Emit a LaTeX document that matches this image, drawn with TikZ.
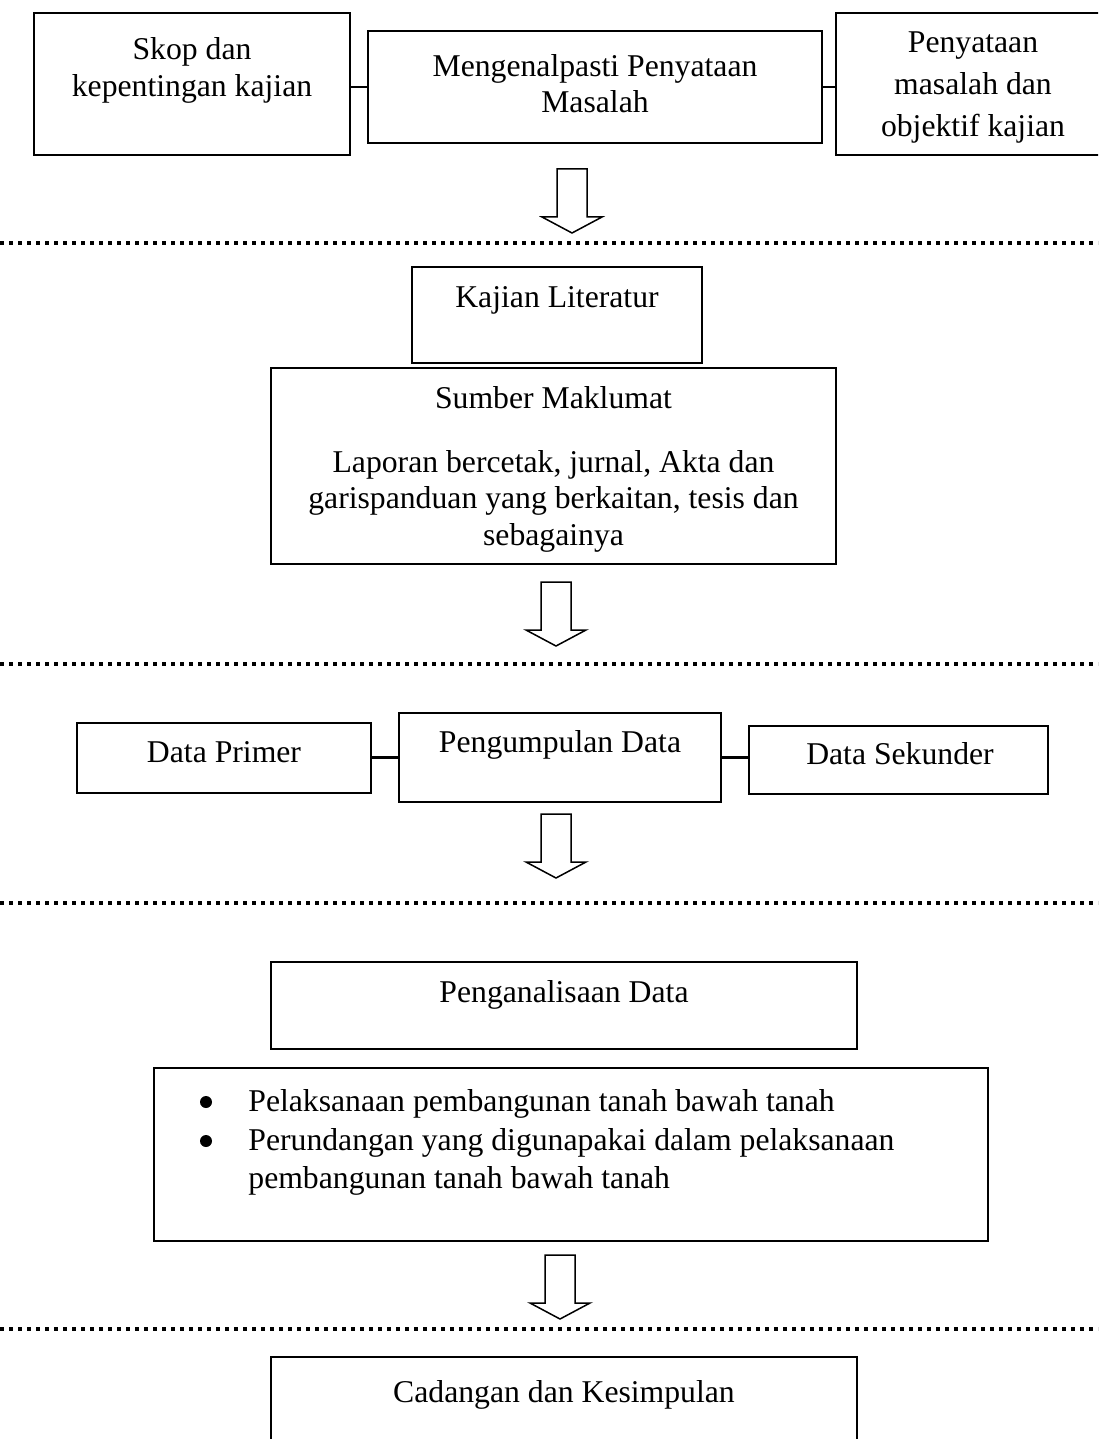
\documentclass[tikz,border=0pt]{standalone}
\usepackage{fontspec}
\setmainfont{Liberation Serif}
\usetikzlibrary{fit}
\begin{document}
\begin{tikzpicture}[x=0.5pt,y=-0.5pt,
  box/.style={draw=black, line width=1pt, inner sep=0pt},
  txt/.style={inner sep=0pt, font=\fontsize{15.85pt}{19pt}\selectfont},
  conn/.style={line width=1.2pt},
  sepline/.style={line width=1.8pt, dash pattern=on 1.8pt off 2.7pt},
  bulletdot/.style={circle, fill=black, inner sep=0pt, minimum size=6pt},
  blockarrow/.style={draw=black, line width=0.75pt, line join=miter, fill=white},
  blockdown/.pic={\draw[blockarrow] (-15,0) -- (15,0) -- (15,48) -- (30,48) -- (0,64) -- (-30,48) -- (-15,48) -- cycle;}]
\useasboundingbox (0,0) rectangle (1098,1439);
\clip (0,0) rectangle (1098,1439);

% ---- Row 1
\node[box, fit={(34,13) (350,155)}] (A) {};
\node[box, fit={(368,31) (822,143)}] (B) {};
\node[box, fit={(836,13) (1112,155)}] (C) {};
\node[txt, anchor=base] (tA1) at (192,60) {Skop dan};
\node[txt, anchor=base] (tA2) at (192,97) {kepentingan kajian};
\node[txt, anchor=base] (tB1) at (595,77) {Mengenalpasti Penyataan};
\node[txt, anchor=base] (tB2) at (595,113) {Masalah};
\node[txt, anchor=base] (tC1) at (973,53) {Penyataan};
\node[txt, anchor=base] (tC2) at (973,95) {masalah dan};
\node[txt, anchor=base] (tC3) at (973,137) {objektif kajian};
\draw[conn] (B.west -| A.east) -- (B.west);
\draw[conn] (B.east) -- (B.east -| C.west);
\pic at (572,169) {blockdown};
\draw[sepline] (0,243) -- (1098,243);

% ---- Row 2
\node[box, fit={(412,267) (702,363)}] (K) {};
\node[box, fit={(271,368) (836,564)}] (S) {};
\node[txt, anchor=base] (tK) at (557,307) {Kajian Literatur};
\node[txt, anchor=base] (tS1) at (553.5,408) {Sumber Maklumat};
\node[txt, anchor=base] (tS2) at (553.5,472) {Laporan bercetak, jurnal, Akta dan};
\node[txt, anchor=base] (tS3) at (553.5,508.5) {garispanduan yang berkaitan, tesis dan};
\node[txt, anchor=base] (tS4) at (553.5,545) {sebagainya};
\pic at (556,582) {blockdown};
\draw[sepline] (0,664) -- (1098,664);

% ---- Row 3
\node[box, fit={(77,723) (371,793)}] (DP) {};
\node[box, fit={(399,713) (721,802)}] (PD) {};
\node[box, fit={(749,726) (1048,794)}] (DS) {};
\node[txt, anchor=base] (tDP) at (224,762) {Data Primer};
\node[txt, anchor=base] (tPD) at (560,752) {Pengumpulan Data};
\node[txt, anchor=base] (tDS) at (900,764) {Data Sekunder};
\draw[conn] (PD.west -| DP.east) -- (PD.west);
\draw[conn] (PD.east) -- (PD.east -| DS.west);
\pic at (556,814) {blockdown};
\draw[sepline] (0,903) -- (1098,903);

% ---- Row 4
\node[box, fit={(271,962) (857,1049)}] (PA) {};
\node[box, fit={(154,1068) (988,1241)}] (BL) {};
\node[txt, anchor=base] (tPA) at (564,1002) {Penganalisaan Data};
\node[bulletdot] (b1) at (206,1102) {};
\node[bulletdot] (b2) at (206,1141) {};
\node[txt, anchor=base west] (tL1) at (248,1111) {Pelaksanaan pembangunan tanah bawah tanah};
\node[txt, anchor=base west] (tL2) at (248,1150) {Perundangan yang digunapakai dalam pelaksanaan};
\node[txt, anchor=base west] (tL3) at (248,1188) {pembangunan tanah bawah tanah};
\pic at (560,1255) {blockdown};
\draw[sepline] (0,1329) -- (1098,1329);

% ---- Row 5
\node[box, fit={(271,1357) (857,1475)}] (CK) {};
\node[txt, anchor=base] (tCK) at (564,1402) {Cadangan dan Kesimpulan};
\end{tikzpicture}
\end{document}
